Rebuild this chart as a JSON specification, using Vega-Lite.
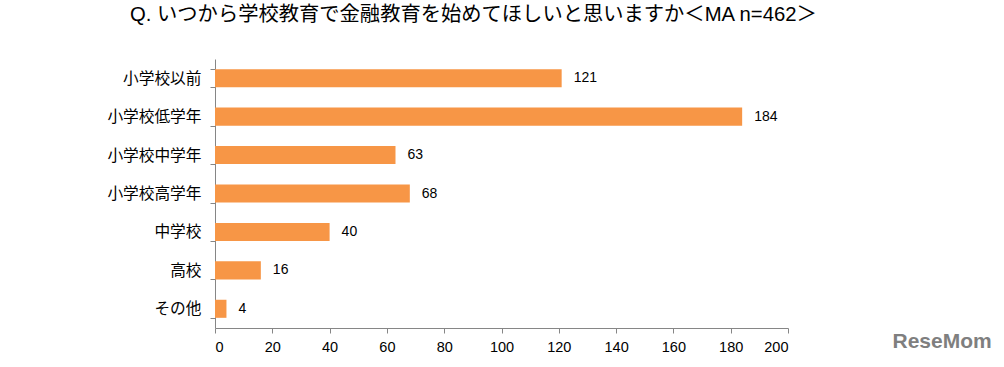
{
  "$schema": "https://vega.github.io/schema/vega-lite/v6.json",
  "width": 573,
  "height": 269,
  "autosize": "none",
  "padding": {"left": 215, "top": 59, "right": 216, "bottom": 39},
  "background": "white",
  "title": {
    "text": "Q. いつから学校教育で金融教育を始めてほしいと思いますか＜MA n=462＞",
    "anchor": "start",
    "frame": "group",
    "dx": -85,
    "offset": 26,
    "fontSize": 20.3,
    "fontWeight": "normal",
    "font": "Liberation Sans, Noto Sans CJK JP",
    "color": "#000000"
  },
  "data": {
    "values": [
      {"category": "小学校以前", "count": 121},
      {"category": "小学校低学年", "count": 184},
      {"category": "小学校中学年", "count": 63},
      {"category": "小学校高学年", "count": 68},
      {"category": "中学校", "count": 40},
      {"category": "高校", "count": 16},
      {"category": "その他", "count": 4}
    ]
  },
  "encoding": {
    "y": {
      "field": "category",
      "type": "nominal",
      "sort": null,
      "scale": {"paddingInner": 0.53, "paddingOuter": 0.265},
      "axis": {
        "title": null,
        "tickBand": "extent",
        "domainColor": "#868686",
        "tickColor": "#868686",
        "tickSize": 5,
        "labelPadding": 9,
        "labelFontSize": 15.7,
        "labelFont": "Noto Sans CJK JP",
        "labelColor": "#000000"
      }
    },
    "x": {
      "field": "count",
      "type": "quantitative",
      "scale": {"domain": [0, 200]},
      "axis": {
        "values": [0, 20, 40, 60, 80, 100, 120, 140, 160, 180, 200],
        "grid": false,
        "domainColor": "#868686",
        "tickColor": "#868686",
        "tickSize": 5,
        "labelPadding": 7,
        "labelFontSize": 14.5,
        "labelFont": "Liberation Sans",
        "labelColor": "#000000",
        "title": "ReseMom",
        "titleX": 677,
        "titleY": 13,
        "titleAlign": "left",
        "titleBaseline": "middle",
        "titleFontSize": 21,
        "titleFont": "Liberation Sans",
        "titleFontWeight": "bold",
        "titleColor": "#7f7f7f"
      }
    }
  },
  "layer": [
    {"mark": {"type": "bar", "color": "#F79646"}},
    {
      "mark": {"type": "text", "align": "left", "dx": 12, "fontSize": 14, "font": "Liberation Sans", "color": "#000000"},
      "encoding": {"text": {"field": "count", "type": "quantitative"}}
    }
  ],
  "config": {"view": {"stroke": null}}
}
